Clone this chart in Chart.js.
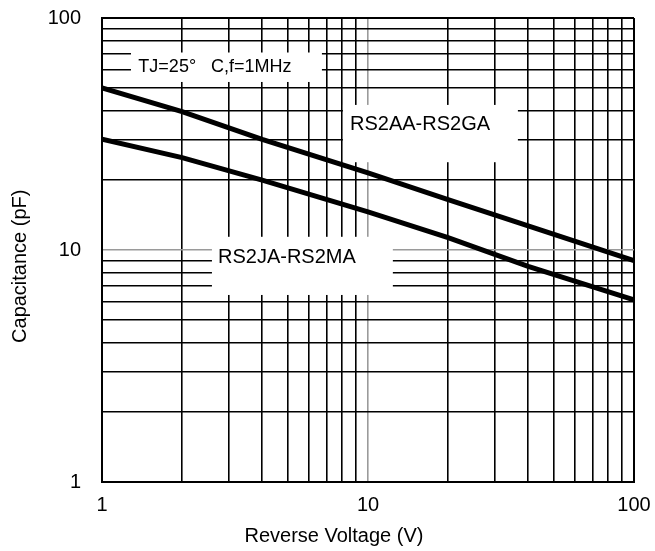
<!DOCTYPE html>
<html>
<head>
<meta charset="utf-8">
<script src="https://cdn.jsdelivr.net/npm/chart.js@4/dist/chart.umd.min.js"></script>
<style>
  body { margin: 0; background: #fff; }
  canvas { display: block; }
</style>
</head>
<body>
<canvas id="cap" width="655" height="551"></canvas>
<script>
// values
var voltage = [1, 2, 4, 10, 20, 40, 100];
var capAtoG = [50, 39.5, 30, 21.5, 16.5, 12.7, 9];
var capJtoM = [30, 25, 20, 14.6, 11.3, 8.5, 6.1];

// log grid lines and which ones get a label
var gridVals = [1, 2, 3, 4, 5, 6, 7, 8, 9, 10, 20, 30, 40, 50, 60, 70, 80, 90, 100];
var tickLabels = [1, 10, 100];

var FONT = "'Liberation Sans', Arial, sans-serif";

// white label boxes, in data units (x1, x2, y top, y bottom, text x, text y)
var notes = [
  {text: "TJ=25\u00b0   C,f=1MHz", size: 18, x1: 1.285, x2: 6.71, yt: 71, yb: 53, tx: 1.37, ty: 61.5},
  {text: "RS2AA-RS2GA", size: 20, x1: 8.05, x2: 36.6, yt: 42.2, yb: 23.9, tx: 8.56, ty: 34.6},
  {text: "RS2JA-RS2MA", size: 20, x1: 2.59, x2: 12.4, yt: 11.4, yb: 6.4, tx: 2.73, ty: 9.33}
];

function toPoints(ys){
  var pts = [];
  for (var i = 0; i < voltage.length; i++){
    pts.push({x: voltage[i], y: ys[i]});
  }
  return pts;
}

var notePlugin = {
  id: 'notes',
  beforeDatasetsDraw: function(chart){
    var ctx = chart.ctx;
    var xs = chart.scales.x, ys = chart.scales.y;
    ctx.save();
    notes.forEach(function(n){
      var l = xs.getPixelForValue(n.x1), r = xs.getPixelForValue(n.x2);
      var t = ys.getPixelForValue(n.yt), b = ys.getPixelForValue(n.yb);
      ctx.fillStyle = '#fff';
      ctx.fillRect(l, t, r - l, b - t);
      ctx.fillStyle = '#000';
      ctx.font = n.size + 'px ' + FONT;
      ctx.textAlign = 'left';
      ctx.textBaseline = 'middle';
      ctx.fillText(n.text, xs.getPixelForValue(n.tx), ys.getPixelForValue(n.ty));
    });
    ctx.restore();
  },
  afterDraw: function(chart){
    // axis titles, placed like the original (not centred on the plot)
    var ctx = chart.ctx;
    var a = chart.chartArea;
    ctx.save();
    ctx.fillStyle = '#000';
    ctx.font = '20px ' + FONT;
    ctx.textAlign = 'center';
    ctx.textBaseline = 'middle';
    ctx.fillText('Reverse Voltage (V)', a.left + (a.right - a.left) * 0.436, chart.height - 15);
    ctx.translate(20, a.top + (a.bottom - a.top) * 0.535);
    ctx.rotate(-Math.PI / 2);
    ctx.fillText('Capacitance (pF)', 0, 0);
    ctx.restore();
  }
};

function gridColor(c){
  return c.tick && c.tick.value === 10 ? '#9a9a9a' : '#000';
}
function gridWidth(c){
  if (!c.tick) return 1.5;
  return (c.tick.value === 1 || c.tick.value === 100) ? 2 : 1.6;
}

function logAxis(pos, padding, fit){
  return {
    type: 'logarithmic',
    position: pos,
    min: 1,
    max: 100,
    afterBuildTicks: function(scale){
      scale.ticks = gridVals.map(function(v){ return {value: v}; });
    },
    afterFit: fit,
    grid: {
      color: gridColor,
      lineWidth: gridWidth,
      drawTicks: false
    },
    border: {color: '#000', width: 2},
    ticks: {
      autoSkip: false,
      maxRotation: 0,
      padding: padding,
      color: '#000',
      font: {family: FONT, size: 20},
      callback: function(value){
        return tickLabels.indexOf(value) >= 0 ? String(value) : '';
      }
    }
  };
}

new Chart(document.getElementById('cap'), {
  type: 'line',
  data: {
    datasets: [
      {
        label: 'RS2AA-RS2GA',
        data: toPoints(capAtoG),
        borderColor: '#000',
        borderWidth: 5,
        pointRadius: 0,
        fill: false
      },
      {
        label: 'RS2JA-RS2MA',
        data: toPoints(capJtoM),
        borderColor: '#000',
        borderWidth: 5,
        pointRadius: 0,
        fill: false
      }
    ]
  },
  options: {
    responsive: false,
    animation: false,
    layout: {padding: {top: 18, right: 21, left: 0, bottom: 0}},
    plugins: {
      legend: {display: false},
      tooltip: {enabled: false}
    },
    scales: {
      // fixed axis sizes, and no extra label overflow padding
      x: logAxis('bottom', 11, function(s){
        s.height = 69;
        s.paddingLeft = 0;
        s.paddingRight = 0;
      }),
      y: logAxis('left', 21, function(s){
        s.width = 102;
        s.paddingTop = 0;
        s.paddingBottom = 0;
      })
    }
  },
  plugins: [notePlugin]
});
</script>
</body>
</html>
